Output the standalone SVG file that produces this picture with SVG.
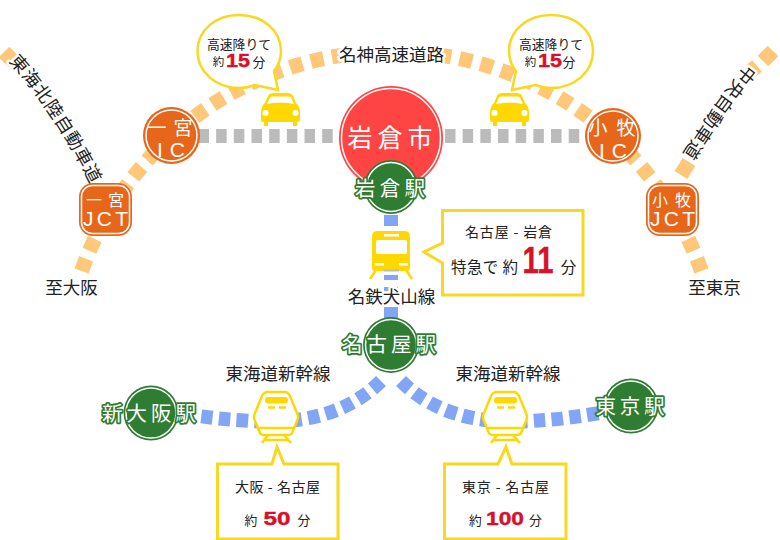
<svg xmlns="http://www.w3.org/2000/svg" width="780" height="540" viewBox="0 0 780 540">
<style>
text{font-family:"Noto Sans CJK JP","Noto Sans",sans-serif;fill:#222;text-anchor:middle}
.road{fill:none;stroke:#ffc878;stroke-width:15;stroke-dasharray:13 8.55}
.solid{fill:none;stroke:#ffc878;stroke-width:15}
.ic{fill:none;stroke:#bbb;stroke-width:14;stroke-dasharray:10.5 7.17}
.rail{fill:none;stroke:#82a6f5;stroke-width:14;stroke-dasharray:11.5 6.4}
.railv{fill:none;stroke:#82a6f5;stroke-width:14}
.halo{paint-order:stroke;stroke:#fff;stroke-width:5;stroke-linejoin:round}
.st{fill:#2e7d32;stroke:none}
.ring{fill:none;stroke:#fff;stroke-width:1.5}
.stt{fill:#fff;paint-order:stroke;stroke:#2e7d32;stroke-width:3.5;stroke-linejoin:round;font-size:20.5px}
.org{fill:#e8661a}
.ot{fill:#fff;font-size:19px}
.oj{fill:#fff;font-size:16px}
.ol{font-family:"Liberation Sans",sans-serif;fill:#fff;font-size:21px}
.box{fill:#fff;stroke:#f8d820;stroke-width:3}
.y{fill:#ffd800}
.yl{fill:none;stroke:#ffd800;stroke-width:2.5}
.w{fill:#fff}
.num{font-family:"Liberation Sans",sans-serif;font-weight:700;fill:#d8102a;stroke:#d8102a;stroke-width:.4}
.s11{font-size:11.5px}
.s13{font-size:12.8px}
.s14{font-size:14px}
.s18{font-size:17.5px}
.along{text-anchor:start;font-size:18px;letter-spacing:.6px}
</style>
<g id="connectors">
<path class="road" d="M81.6,270.9A328.5,328.5 0 0 1 345,54.8"/>
<path class="road" d="M701.4,270.9A328.5,328.5 0 0 0 438,54.8"/>
<path class="solid" d="M4,52L14,62"/>
<path class="solid" d="M773,51L763,61M757,66L751,71M689,162L681,175"/>
<path class="ic" d="M198.500,136H340"/>
<path class="ic" d="M445,136H581"/>
<path class="railv" d="M391,215V226M391,275V280M391,287V292M391,307V322"/>
<path class="rail" d="M381,381C345,417 295,425 244,420.5C225,419.5 215,418 198,416"/>
<path class="rail" d="M401,381C437,417 487,425 538,420.5C557,419.5 575,417 600,413"/>
</g>
<g id="road-labels">
<path id="p1" d="M8.700,61.700Q55,112 96,195" fill="none"/>
<path id="p2" d="M747,64Q709,110 676,165" fill="none"/>
<text class="halo along"><textPath href="#p1">東海北陸自動車道</textPath></text>
<text class="halo along"><textPath href="#p2">中央自動車道</textPath></text>
<text class="halo s18" x="391.5" y="61">名神高速道路</text>
<text class="s18" x="71.500" y="294">至大阪</text>
<text class="s18" x="714.500" y="294">至東京</text>
</g>
<g id="node-ichinomiya-ic">
<circle class="org" cx="171.500" cy="135.500" r="28.500"/><circle class="ring" cx="171.500" cy="135.500" r="25.500"/>
<text class="ot" x="170" y="134.500" textLength="45" lengthAdjust="spacing">一宮</text>
<text class="ol" x="171" y="157" textLength="28" lengthAdjust="spacing">I C</text>
</g>
<g id="node-komaki-ic">
<circle class="org" cx="613" cy="136" r="28"/><circle class="ring" cx="613" cy="136" r="25"/>
<text class="ot" x="612" y="135" textLength="47" lengthAdjust="spacing">小牧</text>
<text class="ol" x="613" y="157.500" textLength="28" lengthAdjust="spacing">I C</text>
</g>
<g id="node-ichinomiya-jct">
<rect class="org" x="79" y="183" width="53" height="53" rx="14"/><rect class="ring" x="81.500" y="185.500" width="48" height="48" rx="11"/>
<text class="oj" x="105" y="205.500" textLength="38" lengthAdjust="spacing">一宮</text>
<text class="ol" x="105.500" y="225.500" textLength="45" lengthAdjust="spacing">JCT</text>
</g>
<g id="node-komaki-jct">
<rect class="org" x="646" y="183" width="53" height="53" rx="14"/><rect class="ring" x="648.500" y="185.500" width="48" height="48" rx="11"/>
<text class="oj" x="671.500" y="205.500" textLength="39" lengthAdjust="spacing">小牧</text>
<text class="ol" x="672.500" y="225.500" textLength="45" lengthAdjust="spacing">JCT</text>
</g>
<g id="node-iwakura-city">
<circle cx="391" cy="138" r="52" fill="#ff4444"/><circle cx="391" cy="138" r="49.500" fill="none" stroke="#fff" stroke-width="1.500"/>
<text x="390" y="147" font-size="25" style="fill:#fff" textLength="85" lengthAdjust="spacing">岩倉市</text>
</g>
<g id="node-iwakura-st">
<circle class="st" cx="391" cy="187" r="27"/><circle class="ring" cx="391" cy="187" r="24.500"/>
<text class="stt" x="390" y="195.500" textLength="70" lengthAdjust="spacing">岩倉駅</text>
</g>
<g id="node-nagoya-st">
<circle class="st" cx="391" cy="345" r="28"/><circle class="ring" cx="391" cy="345" r="25.500"/>
<text class="stt" x="389" y="351.500" textLength="94" lengthAdjust="spacing">名古屋駅</text>
</g>
<g id="node-shinosaka-st">
<circle class="st" cx="151" cy="413" r="27.500"/><circle class="ring" cx="151" cy="413" r="25"/>
<text class="stt" x="149" y="420.500" textLength="94" lengthAdjust="spacing">新大阪駅</text>
</g>
<g id="node-tokyo-st">
<circle class="st" cx="631" cy="406" r="27.500"/><circle class="ring" cx="631" cy="406" r="25"/>
<text class="stt" x="630" y="413.500" textLength="69" lengthAdjust="spacing">東京駅</text>
</g>
<defs>
<g id="car">
<path class="y" d="M0,20Q0,13 4,10L7,3Q8,0 13,0H26Q31,0 32,3L35,10Q39,13 39,20V27Q39,29 37,29H36V33H32V29H7V33H3V29H2Q0,29 0,27Z"/>
<path class="w" d="M6,11L9,4.500Q9.500,3.500 12,3.500H27Q29.500,3.500 30,4.500L33,11Q20,8 6,11Z"/>
<circle class="w" cx="4.500" cy="20" r="3"/><circle class="w" cx="34.500" cy="20" r="3"/>
</g>
<g id="shin">
<path d="M15,1H32Q35,1 37,5L44,22Q46,26 44,30L39,42Q38,44 35,44H11Q8,44 7,42L2,30Q0,26 2,22L9,5Q11,1 15,1Z" fill="#fff" stroke="#ffd800" stroke-width="2.500"/>
<rect class="y" x="12" y="6" width="23" height="6.500" rx="3"/>
<path class="yl" d="M15,16.500H22M26,16.500H33M4,37H42" stroke-width="1.500"/>
<path class="yl" d="M15,44L9,52M31,44L38,52M11,49H36"/>
</g>
</defs>
<g id="callout-left-exit">
<path class="box" d="M197.500,51C197.500,30 216,15 239,15C262,15 281,30 281,51C281,59 279,65 274,71L278,90L255,85C250,87 245,88 239,88C216,88 197.500,72 197.500,51Z" style="stroke-width:2.500"/>
<text class="s13" x="239" y="49">高速降りて</text>
<text class="s11" x="218.500" y="66">約</text><text class="s13" x="259" y="66.500">分</text>
<text class="num" x="238" y="66.500" font-size="18.500" textLength="24" lengthAdjust="spacingAndGlyphs">15</text>
</g>
<g id="callout-right-exit">
<path class="box" d="M593,51C593,30 574.500,15 551,15C528,15 509,30 509,51C509,59 511,65 516,71L512,90L535,85C540,87 545,88 551,88C574.500,88 593,72 593,51Z" style="stroke-width:2.500"/>
<text class="s13" x="551" y="49">高速降りて</text>
<text class="s11" x="530.500" y="66">約</text><text class="s13" x="569" y="66.500">分</text>
<text class="num" x="550" y="66.500" font-size="18.500" textLength="24" lengthAdjust="spacingAndGlyphs">15</text>
</g>
<use id="car-left" href="#car" x="261" y="93"/>
<use id="car-right" href="#car" x="490" y="93"/>
<g id="meitetsu-train">
<path class="y" d="M377,231H405Q410,231 410,237V268Q410,271 407,271H375Q372,271 372,268V237Q372,231 377,231Z"/>
<path class="yl" d="M376,270L370,279M406,270L412,279"/>
<rect class="w" x="376" y="240" width="31" height="14" rx="2"/>
<rect class="w" x="384" y="234" width="15" height="2.500"/>
<rect class="w" x="375" y="263" width="9" height="2.500"/><rect class="w" x="399" y="263" width="9" height="2.500"/>
<rect x="384" y="269.500" width="15" height="2" fill="#bbb"/>
</g>
<text class="halo s18" id="label-meitetsu" x="391.500" y="303">名鉄犬山線</text>
<g id="callout-express">
<path class="box" d="M442.500,210.500H583V295H442.500V263L424,252L442.500,243Z"/>
<text class="s14" x="508.500" y="237" textLength="87" lengthAdjust="spacing">名古屋 - 岩倉</text>
<text font-size="15.500" x="484.500" y="273" textLength="67" lengthAdjust="spacing">特急で 約</text>
<text class="num" x="538" y="273" font-size="36" textLength="31" lengthAdjust="spacingAndGlyphs">11</text>
<text font-size="15.500" x="568.500" y="273">分</text>
</g>
<use id="shinkansen-left" href="#shin" x="253" y="391"/>
<use id="shinkansen-right" href="#shin" x="482" y="391"/>
<text class="s18" id="label-shin-l" x="278" y="380">東海道新幹線</text>
<text class="s18" id="label-shin-r" x="508" y="380">東海道新幹線</text>
<g id="callout-osaka">
<path class="box" d="M217.500,464H272L277,447L284,464H338V539H217.500Z"/>
<text class="s14" x="277.500" y="492" textLength="85" lengthAdjust="spacing">大阪 - 名古屋</text>
<text class="s13" x="251" y="525">約</text><text class="s13" x="304" y="525">分</text>
<text class="num" x="277" y="525" font-size="18" textLength="27" lengthAdjust="spacingAndGlyphs">50</text>
</g>
<g id="callout-tokyo">
<path class="box" d="M444.500,464H498L506,447L512,464H566V539H444.500Z"/>
<text class="s14" x="505.500" y="492" textLength="87" lengthAdjust="spacing">東京 - 名古屋</text>
<text class="s13" x="475.500" y="525">約</text><text class="s13" x="535.500" y="525">分</text>
<text class="num" x="505" y="525" font-size="18" textLength="38" lengthAdjust="spacingAndGlyphs">100</text>
</g>
</svg>
